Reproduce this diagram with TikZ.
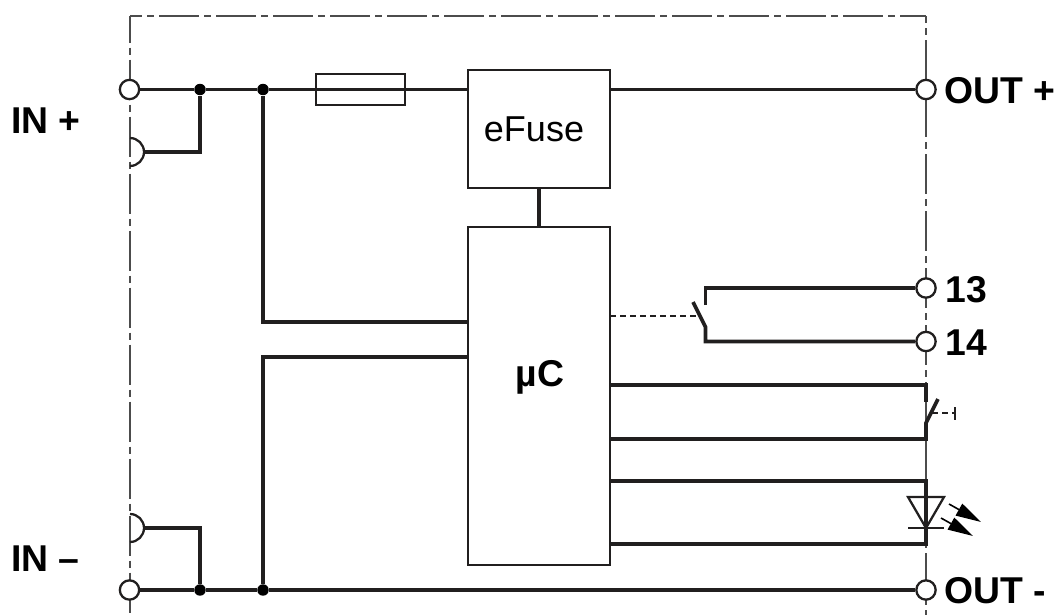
\documentclass[tikz,border=0pt]{standalone}
\usepackage{fontspec}
\setmainfont{Liberation Sans}
\usetikzlibrary{arrows.meta}
\definecolor{cadre}{rgb}{0.3,0.3,0.3}
\definecolor{fil}{rgb}{0.13,0.12,0.12}
\newcommand{\grand}{\fontsize{28}{30}\selectfont}

\begin{document}
\begin{tikzpicture}[x=0.75pt, y=-0.75pt]
	% STYLES
	\tikzstyle{cadrage} = [line width=0.8pt, draw=cadre, dash pattern=on 30pt off 3.75pt on 5.25pt off 3.75pt]
	\tikzstyle{wire} = [line width=2.8pt, draw=fil, line join=miter]
	\tikzstyle{thinwire} = [line width=1.7pt, draw=fil]
	\tikzstyle{pointille} = [line width=0.9pt, draw=fil, dash pattern=on 4.5pt off 3pt]
	\tikzstyle{borne} = [circle, draw=fil, fill=white, line width=1.7pt, minimum size=14.5pt, inner sep=0pt]
	\tikzstyle{dot} = [circle, fill=black, minimum size=8.6pt, inner sep=0pt]
	\tikzstyle{boite} = [draw=fil, fill=white, line width=2pt, inner sep=0pt]
	\tikzstyle{etiquette} = [font=\grand\bfseries, inner sep=0pt, anchor=base west]
	\tikzstyle{fleche} = [line width=1.2pt, draw=black, -{Triangle[length=19pt, width=10pt]}]

	\useasboundingbox (0, 0) rectangle (1057, 615);

	% CADRE
	\coordinate (hg) at (130, 16);
	\coordinate (hd) at (926, 16);
	\coordinate (bg) at (130, 615);
	\coordinate (bd) at (926, 615);
	\draw[cadrage, dash phase=21pt] (hg) -- (hd);
	\draw[cadrage, dash phase=10pt] (hg) -- (bg);
	\draw[cadrage, dash phase=24.75pt] (hd) -- (bd);

	% BORNES
	\node[dot] (j1) at (200, 89.5) {};
	\node[dot] (j2) at (263, 89.5) {};
	\node[dot] (j3) at (200, 590) {};
	\node[dot] (j4) at (263, 590) {};
	\coordinate (s1) at (144, 152);
	\coordinate (s2) at (144, 528);

	% BOITES
	\node[boite, fill=none, minimum width=66.75pt, minimum height=23.25pt] (fuse) at (360.5, 89.5) {};
	\node[boite, minimum width=106.5pt, minimum height=88.5pt] (efuse) at (539, 129) {};
	\node[boite, minimum width=106.5pt, minimum height=253.5pt] (uc) at (539, 396) {};
	\node[font=\fontsize{27}{30}\selectfont, inner sep=0pt] (efuselabel) at (534, 129.5) {eFuse};
	\node[font=\grand\bfseries, inner sep=0pt, anchor=base] (uclabel) at (540, 386) {µC};

	% FILS
	\node[borne] (inp) at (129.5, 89.5) {};
	\node[borne] (inm) at (129.5, 590) {};
	\node[borne] (outp) at (926, 89.5) {};
	\node[borne] (outm) at (926, 590) {};
	\node[borne] (c13) at (926, 288) {};
	\node[borne] (c14) at (926, 341.5) {};
	\draw[wire] (inp) -- (j1) -- (j2) -- (j2 -| efuse.west);
	\draw[wire] (efuse.east |- outp) -- (outp);
	\draw[wire] (inm) -- (j3) -- (j4) -- (outm);
	\draw[wire] (j1) |- (s1);
	\draw[wire] (j3) |- (s2);
	\draw[wire] (efuse) -- (uc);
	\coordinate (u1) at (468, 322);
	\coordinate (u2) at (468, 357);
	\draw[wire] (j2) |- (u1);
	\draw[wire] (j4) |- (u2);

	% DEMI-CERCLES
	\draw[thinwire] (130, 138) arc (-90:90:14);
	\draw[thinwire] (130, 514) arc (-90:90:14);

	% CONTACT 13/14
	\coordinate (p13) at (705.5, 305);
	\coordinate (k13) at (705.5, 288);
	\coordinate (p14) at (705.5, 327);
	\coordinate (k14) at (705.5, 341.5);
	\coordinate (lame) at (693, 302);
	\coordinate (cmd) at (699.5, 316);
	\coordinate (ucd) at (610, 316);
	\draw[wire] (p13) -- (k13) -- (c13);
	\draw[wire] (lame) -- (p14) -- (k14) -- (c14);
	\draw[pointille] (ucd) -- (cmd);

	% BOUTON
	\coordinate (b1) at (610, 385);
	\coordinate (b2) at (926, 385);
	\coordinate (b3) at (926, 402);
	\coordinate (b4) at (938, 399);
	\coordinate (b5) at (926, 423);
	\coordinate (b6) at (926, 439);
	\coordinate (b7) at (610, 439);
	\coordinate (t1) at (932, 413);
	\coordinate (t2) at (955, 413);
	\draw[wire] (b1) -- (b2) -- (b3);
	\draw[wire] (b4) -- (b5) -- (b6) -- (b7);
	\draw[pointille] (t1) -- (t2);
	\draw[thinwire, line width=1.1pt] (955, 407) -- (955, 420);

	% LED
	\coordinate (l1) at (610, 481);
	\coordinate (l2) at (926, 481);
	\coordinate (l3) at (926, 544);
	\coordinate (l4) at (610, 544);
	\draw[wire] (l1) -- (l2) -- (l3) -- (l4);
	\draw[thinwire, line join=miter] (908, 497) -- (944, 497) -- (926, 528) -- cycle;
	\draw[thinwire] (908, 528) -- (944, 528);
	\coordinate (a1) at (949, 504);
	\coordinate (a2) at (981, 522);
	\coordinate (a3) at (941, 518);
	\coordinate (a4) at (973, 536);
	\draw[fleche] (a1) -- (a2);
	\draw[fleche] (a3) -- (a4);

	% ETIQUETTES
	\node[etiquette] (linp) at (11, 133) {IN +};
	\node[etiquette] (linm) at (11, 571.5) {IN –};
	\node[etiquette] (loutp) at (944, 103) {OUT +};
	\node[etiquette] (loutm) at (944, 603) {OUT -};
	\node[etiquette] (l13) at (945, 302) {13};
	\node[etiquette] (l14) at (945, 355) {14};
\end{tikzpicture}
\end{document}
